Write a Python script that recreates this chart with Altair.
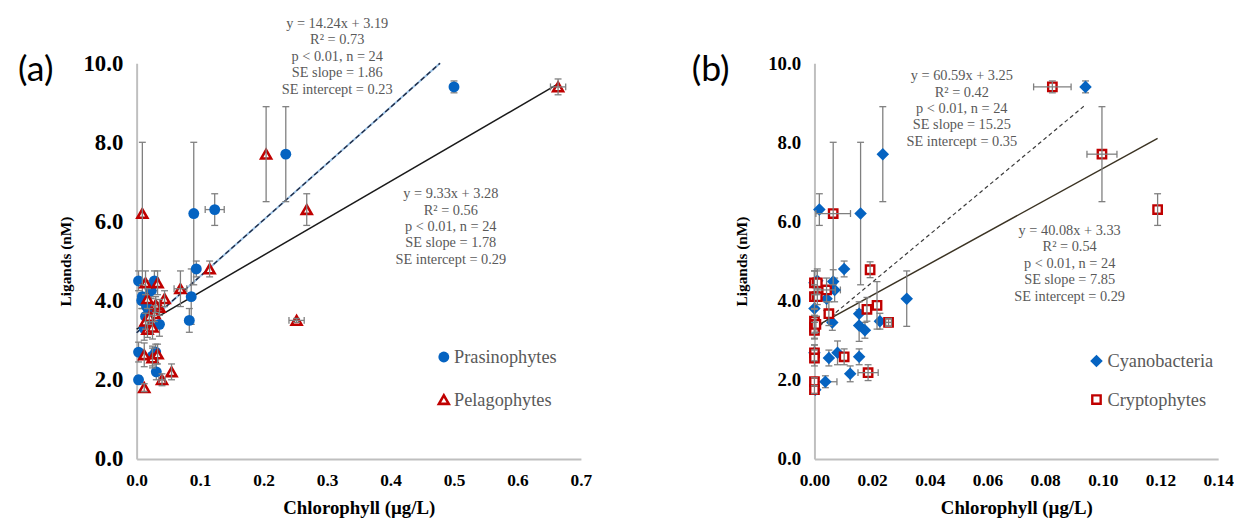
import altair as alt
import pandas as pd

# ---------------- data ----------------
# Panel (a) - Prasinophytes (blue circles)
a_pra_x = [0.003, 0.028, 0.009, 0.023, 0.016, 0.019, 0.036, 0.086, 0.083, 0.003, 0.031, 0.003,
           0.094, 0.090, 0.123, 0.235, 0.500, 0.012, 0.025, 0.020, 0.008, 0.030, 0.014, 0.022]
a_pra_y = [4.50, 4.50, 4.10, 4.25, 3.85, 3.75, 3.40, 4.10, 3.50, 2.70, 2.20, 2.00,
           4.80, 6.20, 6.30, 7.70, 9.40, 3.30, 2.60, 3.55, 4.00, 2.70, 3.60, 4.30]
a_pra_yerr = [0.25, 0.25, 0.30, 0.20, 0.20, 0.20, 0.30, 0.70, 0.30, 0.25, 0.20, 0.10,
              0.20, 1.80, 0.40, 1.20, 0.15, 0.30, 0.25, 0.20, 0.20, 0.20, 0.20, 0.20]
a_pra_xerr = [0, 0, 0, 0, 0, 0, 0, 0, 0, 0, 0, 0,
              0, 0, 0.015, 0, 0.004, 0, 0, 0, 0, 0, 0, 0]

# Panel (a) - Pelagophytes (red open triangles)
a_pel_x = [0.204, 0.009, 0.268, 0.115, 0.014, 0.033, 0.069, 0.017, 0.044, 0.036, 0.028, 0.014,
           0.017, 0.025, 0.252, 0.012, 0.025, 0.033, 0.055, 0.040, 0.012, 0.664, 0.020, 0.030]
a_pel_y = [7.70, 6.20, 6.30, 4.80, 4.45, 4.45, 4.30, 4.05, 4.05, 3.83, 3.67, 3.48,
           3.27, 3.33, 3.50, 2.63, 2.55, 2.65, 2.20, 2.00, 1.80, 9.40, 3.60, 3.90]
a_pel_yerr = [1.20, 1.80, 0.40, 0.20, 0.30, 0.30, 0.45, 0.25, 0.20, 0.20, 0.20, 0.20,
              0.20, 0.30, 0.05, 0.30, 0.25, 0.25, 0.20, 0.15, 0.10, 0.20, 0.20, 0.20]
a_pel_xerr = [0, 0, 0, 0, 0, 0, 0.010, 0, 0, 0, 0, 0,
              0, 0, 0.012, 0, 0, 0, 0, 0.005, 0, 0.012, 0, 0]

# Panel (b) - Cyanobacteria (blue diamonds)
b_cya_x = [0.0237, 0.0017, 0.0160, 0.0103, 0.0940, 0.0065, 0.0000, 0.0070, 0.0042, 0.0320, 0.0000, 0.0062,
           0.0155, 0.0155, 0.0175, 0.0227, 0.0000, 0.0050, 0.0080, 0.0155, 0.0124, 0.0038, 0.0003, 0.0010]
b_cya_y = [7.70, 6.30, 6.20, 4.80, 9.40, 4.48, 4.45, 4.27, 4.05, 4.05, 3.80, 3.45,
           3.67, 3.37, 3.25, 3.48, 2.68, 2.55, 2.68, 2.58, 2.15, 1.95, 1.75, 4.50]
b_cya_yerr = [1.20, 0.40, 1.80, 0.20, 0.15, 0.30, 0.30, 0.30, 0.30, 0.70, 0.20, 0.20,
              0.30, 0.40, 0.20, 0.20, 0.20, 0.20, 0.30, 0.20, 0.20, 0.15, 0.10, 0.30]
b_cya_xerr = [0, 0, 0, 0, 0, 0, 0, 0.002, 0, 0, 0, 0,
              0, 0, 0, 0, 0, 0, 0, 0, 0, 0.004, 0, 0]

# Panel (b) - Cryptophytes (red open squares)
b_cry_x = [0.0065, 0.0193, 0.0825, 0.0997, 0.1190, 0.0000, 0.0010, 0.0042, 0.0000, 0.0050, 0.0182, 0.0217,
           0.0257, 0.0000, 0.0000, 0.0000, 0.0000, 0.0000, 0.0103, 0.0186, 0.0000, 0.0000, 0.0010, 0.0005]
b_cry_y = [6.20, 4.78, 9.40, 7.70, 6.30, 4.45, 4.45, 4.27, 4.10, 3.67, 3.78, 3.88,
           3.45, 3.48, 3.33, 3.25, 2.68, 2.55, 2.58, 2.18, 1.95, 1.75, 4.10, 3.40]
b_cry_yerr = [1.80, 0.20, 0.15, 1.20, 0.40, 0.30, 0.30, 0.30, 0.30, 0.30, 0.30, 0.60,
              0.10, 0.30, 0.30, 0.20, 0.20, 0.20, 0.20, 0.20, 0.10, 0.10, 0.20, 0.20]
b_cry_xerr = [0.006, 0, 0.0065, 0.0052, 0, 0, 0, 0.003, 0, 0, 0, 0,
              0.001, 0, 0, 0, 0, 0, 0, 0.0035, 0, 0, 0, 0]

# regression fits: slope, intercept, x-range end
a_fit_pra = (14.24, 3.19, 0.478)
a_fit_pel = (9.33, 3.28, 0.664)
b_fit_cya = (60.59, 3.25, 0.094)
b_fit_cry = (40.08, 3.33, 0.119)

a_ann1 = ["y = 14.24x + 3.19", "R² = 0.73", "p < 0.01, n = 24", "SE slope = 1.86", "SE intercept = 0.23"]
a_ann2 = ["y = 9.33x + 3.28", "R² = 0.56", "p < 0.01, n = 24", "SE slope = 1.78", "SE intercept = 0.29"]
b_ann1 = ["y = 60.59x + 3.25", "R² = 0.42", "p < 0.01, n = 24", "SE slope = 15.25", "SE intercept = 0.35"]
b_ann2 = ["y = 40.08x + 3.33", "R² = 0.54", "p < 0.01, n = 24", "SE slope = 7.85", "SE intercept = 0.29"]

a_legend = ["Prasinophytes", "Pelagophytes"]
b_legend = ["Cyanobacteria", "Cryptophytes"]

a_xticks = [0.0, 0.1, 0.2, 0.3, 0.4, 0.5, 0.6, 0.7]
b_xticks = [0.0, 0.02, 0.04, 0.06, 0.08, 0.10, 0.12, 0.14]
yticks = [0, 2, 4, 6, 8, 10]

# ---------------- styling ----------------
SERIF = "Liberation Serif"
TXT_GRAY = "#595959"
BLUE = "#0563C1"
RED = "#C00000"
ERRC = "#7F7F7F"
AXC = "#BFBFBF"
LINE_STEP = 0.415


def pts_df(xs, ys, ye, xe):
    return pd.DataFrame({"x": xs, "y": ys, "ye": ye, "xe": xe})


def fit_df(fit):
    slope, icpt, xend = fit
    xs = [0.0, xend]
    return pd.DataFrame({"x": xs, "y": [slope * v + icpt for v in xs]})


def ann_df(lines, x0, y0):
    return pd.DataFrame({"x": [x0] * len(lines),
                         "y": [y0 - i * LINE_STEP for i in range(len(lines))],
                         "t": lines})


def panel(series, fits, anns, legend, label, xdom, xticks, xfmt,
          ylab_size, ytitle_pad, ghost):
    xs = alt.Scale(domain=xdom, nice=False, zero=False)
    ys = alt.Scale(domain=[0, 10], nice=False, zero=False)
    xax = alt.Axis(values=xticks, format=xfmt, grid=False, ticks=False, tickSize=0,
                   domainColor=AXC, domainWidth=2, labelFont=SERIF, labelFontWeight="bold",
                   labelFontSize=17.5, labelColor="black", labelPadding=13, labelFlush=False,
                   labelOverlap=False, title="Chlorophyll (µg/L)", titleFont=SERIF,
                   titleFontWeight="bold", titleFontSize=19, titleColor="black", titlePadding=10)
    yax = alt.Axis(values=yticks, format=".1f", grid=False, ticks=False, tickSize=0,
                   domainColor=AXC, domainWidth=2, labelFont=SERIF, labelFontWeight="bold",
                   labelFontSize=ylab_size, labelColor="black", labelPadding=14, labelFlush=False,
                   labelOverlap=False, title="Ligands (nM)", titleFont=SERIF,
                   titleFontWeight="bold", titleFontSize=15.5, titleColor="black",
                   titlePadding=ytitle_pad)

    def X(f):
        return alt.X(f, type="quantitative", scale=xs, axis=xax)

    def Y(f):
        return alt.Y(f, type="quantitative", scale=ys, axis=yax)

    layers = []
    # fitted lines
    for fit, style in fits:
        d = fit_df(fit)
        if style == "dash_blue":
            layers.append(alt.Chart(d).mark_line(color="#9DC3E6", strokeWidth=2).encode(x=X("x"), y=Y("y")))
            layers.append(alt.Chart(d).mark_line(color="#1F2A44", strokeWidth=1.4, strokeDash=[5, 3]).encode(x=X("x"), y=Y("y")))
        elif style == "dash_gray":
            layers.append(alt.Chart(d).mark_line(color="#3A3A3A", strokeWidth=1.2, strokeDash=[4, 3]).encode(x=X("x"), y=Y("y")))
        else:
            layers.append(alt.Chart(d).mark_line(color=style, strokeWidth=1.5).encode(x=X("x"), y=Y("y")))

    def err_layers(df):
        out = []
        yb = alt.Chart(df).transform_filter("datum.ye > 0").transform_calculate(
            lo="datum.y - datum.ye", hi="datum.y + datum.ye")
        out.append(yb.mark_rule(color=ERRC, strokeWidth=1.3).encode(x=X("x"), y=Y("lo"), y2="hi:Q"))
        out.append(yb.mark_point(shape="M-1,0L1,0", size=49, stroke=ERRC, strokeWidth=1.3,
                                 filled=False, opacity=1).encode(x=X("x"), y=Y("lo")))
        out.append(yb.mark_point(shape="M-1,0L1,0", size=49, stroke=ERRC, strokeWidth=1.3,
                                 filled=False, opacity=1).encode(x=X("x"), y=Y("hi")))
        xb = alt.Chart(df).transform_filter("datum.xe > 0").transform_calculate(
            lo="datum.x - datum.xe", hi="datum.x + datum.xe")
        out.append(xb.mark_rule(color=ERRC, strokeWidth=1.3).encode(x=X("lo"), x2="hi:Q", y=Y("y")))
        out.append(xb.mark_point(shape="M0,-1L0,1", size=49, stroke=ERRC, strokeWidth=1.3,
                                 filled=False, opacity=1).encode(x=X("lo"), y=Y("y")))
        out.append(xb.mark_point(shape="M0,-1L0,1", size=49, stroke=ERRC, strokeWidth=1.3,
                                 filled=False, opacity=1).encode(x=X("hi"), y=Y("y")))
        return out

    def marker(df, st):
        return alt.Chart(df).mark_point(**st).encode(x=X("x"), y=Y("y"))

    (df_b, st_b), (df_r, st_r) = series
    layers += err_layers(df_b)
    layers.append(marker(df_b, st_b))
    layers.append(marker(df_r, st_r))
    layers += err_layers(df_r)

    # annotations
    for lines, x0, y0 in anns:
        layers.append(alt.Chart(ann_df(lines, x0, y0)).mark_text(
            font=SERIF, fontSize=14.5, color=TXT_GRAY, align="center", baseline="middle"
        ).encode(x=X("x"), y=Y("y"), text="t:N"))

    # legend
    names, mx, tx, ly = legend
    for i, name in enumerate(names):
        st = st_b if i == 0 else st_r
        d = pd.DataFrame({"x": [mx], "y": [ly[i]], "tx": [tx], "t": [name]})
        layers.append(alt.Chart(d).mark_point(**st).encode(x=X("x"), y=Y("y")))
        layers.append(alt.Chart(d).mark_text(font=SERIF, fontSize=18.5, color=TXT_GRAY,
                                             align="left", baseline="middle")
                      .encode(x=X("tx"), y=Y("y"), text="t:N"))

    # panel label
    lt, lx, lyy = label
    layers.append(alt.Chart(pd.DataFrame({"x": [lx], "y": [lyy], "t": [lt]})).mark_text(
        font="Lato", fontSize=36, color="black", align="center", baseline="middle"
    ).encode(x=X("x"), y=Y("y"), text="t:N"))

    if ghost is not None:
        gx, gy = ghost
        layers.append(alt.Chart(pd.DataFrame({"x": [gx], "y": [gy], "t": ["y"]})).mark_text(
            font=SERIF, fontSize=14.5, opacity=0, align="center", baseline="middle"
        ).encode(x=X("x"), y=Y("y"), text="t:N"))

    return layers


circle_st = dict(shape="circle", filled=True, fill=BLUE, size=121, opacity=1, strokeWidth=0)
tri_st = dict(shape="triangle-up", filled=True, fill="white", stroke=RED, strokeWidth=2.6, size=100, opacity=1)
dia_st = dict(shape="diamond", filled=True, fill=BLUE, size=160, opacity=1, strokeWidth=0)
sq_st = dict(shape="square", filled=True, fill="white", stroke=RED, strokeWidth=2.4, size=72, opacity=1)

layers_a = panel(
    series=[(pts_df(a_pra_x, a_pra_y, a_pra_yerr, a_pra_xerr), circle_st),
            (pts_df(a_pel_x, a_pel_y, a_pel_yerr, a_pel_xerr), tri_st)],
    fits=[(a_fit_pel, "#1A1A1A"), (a_fit_pra, "dash_blue")],
    anns=[(a_ann1, 0.316, 10.99), (a_ann2, 0.495, 6.69)],
    legend=(a_legend, 0.484, 0.5, [2.575, 1.5]),
    label=("(a)", -0.159, 9.83),
    xdom=[0, 0.7], xticks=a_xticks, xfmt=".1f",
    ylab_size=23, ytitle_pad=10, ghost=None)

layers_b = panel(
    series=[(pts_df(b_cya_x, b_cya_y, b_cya_yerr, b_cya_xerr), dia_st),
            (pts_df(b_cry_x, b_cry_y, b_cry_yerr, b_cry_xerr), sq_st)],
    fits=[(b_fit_cry, "#3B3323"), (b_fit_cya, "dash_gray")],
    anns=[(b_ann1, 0.0511, 9.67), (b_ann2, 0.0885, 5.76)],
    legend=(b_legend, 0.0978, 0.1016, [2.475, 1.5]),
    label=("(b)", -0.036, 9.83),
    xdom=[0, 0.14], xticks=b_xticks, xfmt=".2f",
    ylab_size=19, ytitle_pad=18, ghost=(0.05, 10.99))

pa = alt.layer(*layers_a).properties(width=449, height=400)
pb = alt.layer(*layers_b).properties(width=408, height=400)

chart = alt.hconcat(pa, pb, spacing=100).properties(
    padding={"left": 10, "top": 5, "right": 0, "bottom": 0},
    background="white",
).configure_view(stroke=None)

chart.save("out.html", embed_options={"renderer": "svg", "actions": False})
